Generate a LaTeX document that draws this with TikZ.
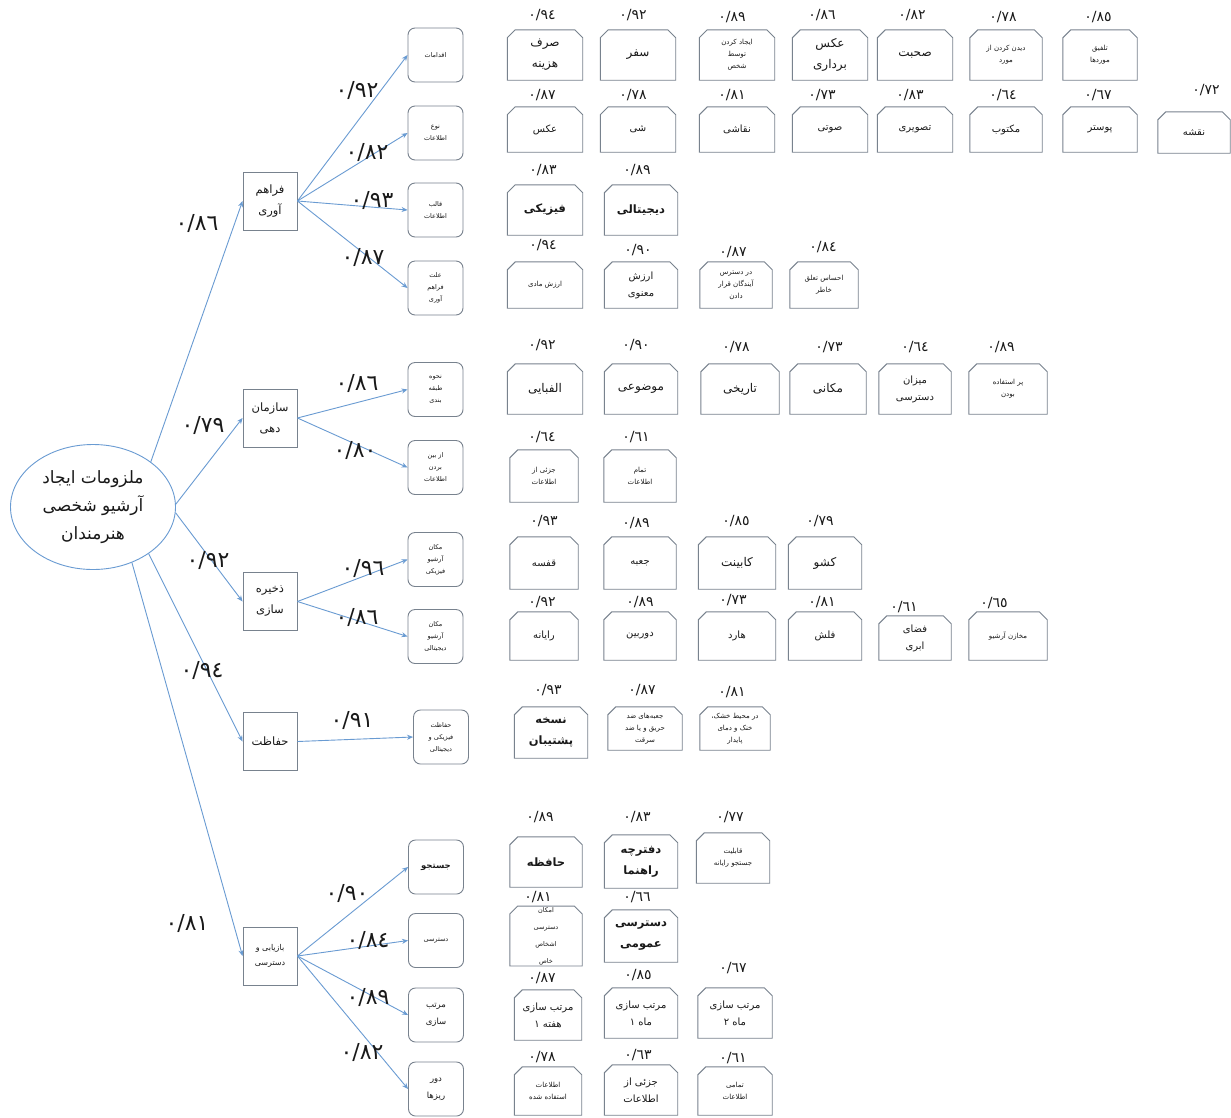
\documentclass[tikz,border=0pt]{standalone}
\usepackage{fontspec}
\TeXXeTstate=1
\newfontfamily\arabicfont[Script=Arabic]{DejaVu Sans}
\usetikzlibrary{shapes.geometric,arrows.meta}
\definecolor{arrowc}{RGB}{105,155,210}
\definecolor{boxc}{RGB}{120,130,142}
\definecolor{txtc}{RGB}{25,25,25}
\newcommand{\fa}[1]{\beginR #1\endR}
\tikzset{
 arr/.style={draw=arrowc, line width=0.9pt, -{Stealth[length=6pt,width=5pt]}},
 lone/.style={draw=boxc, line width=0.9pt, minimum width=54pt, minimum height=58pt, inner sep=1pt, align=center, text=txtc, font=\arabicfont\fontsize{11.5}{21}\selectfont},
 ltwo/.style={draw=boxc, line width=0.9pt, rounded corners=7pt, minimum width=55pt, minimum height=54pt, inner sep=1pt, align=center, text=txtc, font=\arabicfont\fontsize{6.5}{12}\selectfont},
 cell/.style 2 args={minimum width=#1pt, minimum height=#2pt, inner sep=1pt, align=center, text=txtc},
 big/.style={font=\arabicfont\fontsize{12}{21}\selectfont},
 bigb/.style={font=\arabicfont\bfseries\fontsize{11.5}{21}\selectfont},
 med/.style={font=\arabicfont\fontsize{10}{17}\selectfont},
 sml/.style={font=\arabicfont\fontsize{7}{12}\selectfont},
 val/.style={text=txtc, inner sep=0pt, font=\arabicfont\fontsize{14}{16}\selectfont},
 wlab/.style={text=txtc, inner sep=0pt, font=\arabicfont\fontsize{22}{24}\selectfont},
 snipline/.style={draw=boxc, line width=0.9pt},
}
\begin{document}
\begin{tikzpicture}[x=1pt,y=-1pt]
\fill[white] (0,0) rectangle (1231,1117);
\useasboundingbox (0,0) rectangle (1231,1117);

% root
\node[ellipse, draw=arrowc, line width=0.9pt, minimum width=165pt, minimum height=125pt, inner sep=0pt, align=center, text=txtc, font=\arabicfont\fontsize{17}{28}\selectfont] (root) at (93,507) {\fa{ملزومات ایجاد}\\\fa{آرشیو شخصی}\\\fa{هنرمندان}};

% level 1
\node[lone] (f) at (270,201) {\fa{فراهم}\\\fa{آوری}};
\node[lone] (s) at (270,418) {\fa{سازمان}\\\fa{دهی}};
\node[lone] (z) at (270,601.5) {\fa{ذخیره}\\\fa{سازی}};
\node[lone] (h) at (270,741.5) {\fa{حفاظت}};
\node[lone, font=\arabicfont\fontsize{8}{15}\selectfont] (b) at (270,956) {\fa{بازیابی و}\\\fa{دسترسی}};

% level 2
\node[ltwo] (f1) at (435.5,55) {\fa{اقدامات}};
\node[ltwo] (f2) at (435.5,133) {\fa{نوع}\\\fa{اطلاعات}};
\node[ltwo] (f3) at (435.5,210) {\fa{قالب}\\\fa{اطلاعات}};
\node[ltwo] (f4) at (435.5,288) {\fa{علت}\\\fa{فراهم}\\\fa{آوری}};
\node[ltwo] (s1) at (435.5,389.5) {\fa{نحوه}\\\fa{طبقه}\\\fa{بندی}};
\node[ltwo] (s2) at (435.5,467.5) {\fa{از بین}\\\fa{بردن}\\\fa{اطلاعات}};
\node[ltwo] (z1) at (435.5,559.5) {\fa{مکان}\\\fa{آرشیو}\\\fa{فیزیکی}};
\node[ltwo] (z2) at (435.5,636.5) {\fa{مکان}\\\fa{آرشیو}\\\fa{دیجیتالی}};
\node[ltwo] (h1) at (441,737) {\fa{حفاظت}\\\fa{فیزیکی و}\\\fa{دیجیتالی}};
\node[ltwo, font=\arabicfont\bfseries\fontsize{8.5}{14}\selectfont] (b1) at (436,867) {\fa{جستجو}};
\node[ltwo] (b2) at (436,940.5) {\fa{دسترسی}};
\node[ltwo, font=\arabicfont\fontsize{8.5}{17}\selectfont] (b3) at (436,1015) {\fa{مرتب}\\\fa{سازی}};
\node[ltwo, font=\arabicfont\fontsize{8.5}{17}\selectfont] (b4) at (436,1089) {\fa{دور}\\\fa{ریزها}};

% root edges
\draw[arr] (root.38) -- (f.west);
\draw[arr] (root.2) -- (s.west);
\draw[arr] (root.-4) -- (z.west);
\draw[arr] (root.-40) -- (h.west);
\draw[arr] (root.-55) -- (b.west);
\node[wlab] (lf) at (197,223) {٠/٨٦};
\node[wlab] (ls) at (203,425) {٠/٧٩};
\node[wlab] (lz) at (208,560) {٠/٩٢};
\node[wlab] (lh) at (202,670) {٠/٩٤};
\node[wlab] (lb) at (187,923) {٠/٨١};

% level-1 to level-2 edges
\foreach \a/\b in {f/f1,f/f2,f/f3,f/f4,s/s1,s/s2,z/z1,z/z2,h/h1,b/b1,b/b2,b/b3,b/b4}
  \draw[arr] (\a.east) -- (\b.west);
\node[wlab] (lf1) at (357,90) {٠/٩٢};
\node[wlab] (lf2) at (367,152) {٠/٨٢};
\node[wlab] (lf3) at (372,200) {٠/٩٣};
\node[wlab] (lf4) at (363,257) {٠/٨٧};
\node[wlab] (ls1) at (357,383) {٠/٨٦};
\node[wlab] (ls2) at (355,450) {٠/٨٠};
\node[wlab] (lz1) at (363,568) {٠/٩٦};
\node[wlab] (lz2) at (357,617) {٠/٨٦};
\node[wlab] (lh1) at (352,720) {٠/٩١};
\node[wlab] (lb1) at (347,893) {٠/٩٠};
\node[wlab] (lb2) at (368,940) {٠/٨٤};
\node[wlab] (lb3) at (368,997) {٠/٨٩};
\node[wlab] (lb4) at (362,1052) {٠/٨٢};

% ---- cells: row A (اقدامات)
\node[cell={75}{50}, big] (A1) at (545,55) {\fa{صرف}\\\fa{هزینه}};
\node[cell={75}{50}, big] (A2) at (638,55) {\fa{سفر}};
\node[cell={75}{50}, sml] (A3) at (737,55) {\fa{ایجاد کردن}\\\fa{توسط}\\\fa{شخص}};
\node[cell={75}{50}, big] (A4) at (830,55) {\fa{عکس}\\\fa{برداری}};
\node[cell={75}{50}, big] (A5) at (915,55) {\fa{صحبت}};
\node[cell={72}{50}, sml] (A6) at (1006,55) {\fa{دیدن کردن از}\\\fa{مورد}};
\node[cell={74}{50}, sml] (A7) at (1100,55) {\fa{تلفیق}\\\fa{موردها}};
\node[val] at (542,15) {٠/٩٤};
\node[val] at (633,15) {٠/٩٢};
\node[val] at (732,17) {٠/٨٩};
\node[val] at (822,15) {٠/٨٦};
\node[val] at (912,15) {٠/٨٢};
\node[val] at (1003,17) {٠/٧٨};
\node[val] at (1098,17) {٠/٨٥};

% row B (نوع اطلاعات)
\node[cell={75}{45}, med] (B1) at (545,129.5) {\fa{عکس}};
\node[cell={75}{45}, med] (B2) at (638,129.5) {\fa{شی}};
\node[cell={75}{45}, med] (B3) at (737,129.5) {\fa{نقاشی}};
\node[cell={75}{45}, med] (B4) at (830,129.5) {\fa{صوتی}};
\node[cell={75}{45}, med] (B5) at (915,129.5) {\fa{تصویری}};
\node[cell={72}{45}, med] (B6) at (1006,129.5) {\fa{مکتوب}};
\node[cell={74}{45}, med] (B7) at (1100,129.5) {\fa{پوستر}};
\node[cell={72}{41}, med] (B8) at (1194,132.5) {\fa{نقشه}};
\node[val] at (542,95) {٠/٨٧};
\node[val] at (633,95) {٠/٧٨};
\node[val] at (732,95) {٠/٨١};
\node[val] at (822,95) {٠/٧٣};
\node[val] at (910,95) {٠/٨٣};
\node[val] at (1003,95) {٠/٦٤};
\node[val] at (1098,95) {٠/٦٧};
\node[val] at (1206,90) {٠/٧٢};

% row C (قالب)
\node[cell={75}{50}, bigb] (C1) at (545,210) {\fa{فیزیکی}};
\node[cell={73}{50}, bigb] (C2) at (641,210) {\fa{دیجیتالی}};
\node[val] at (543,170) {٠/٨٣};
\node[val] at (637,170) {٠/٨٩};

% row D (علت)
\node[cell={75}{46}, sml] (D1) at (545,285) {\fa{ارزش مادی}};
\node[cell={73}{46}, med] (D2) at (641,285) {\fa{ارزش}\\\fa{معنوی}};
\node[cell={72}{46}, sml] (D3) at (736,285) {\fa{در دسترس}\\\fa{آیندگان قرار}\\\fa{دادن}};
\node[cell={68}{46}, sml] (D4) at (824,285) {\fa{احساس تعلق}\\\fa{خاطر}};
\node[val] at (543,245) {٠/٩٤};
\node[val] at (638,250) {٠/٩٠};
\node[val] at (733,252) {٠/٨٧};
\node[val] at (823,247) {٠/٨٤};

% row E (نحوه طبقه بندی)
\node[cell={75}{50}, big] (E1) at (545,389) {\fa{الفبایی}};
\node[cell={73}{50}, big] (E2) at (641,389) {\fa{موضوعی}};
\node[cell={78}{50}, big] (E3) at (740,389) {\fa{تاریخی}};
\node[cell={76}{50}, big] (E4) at (828,389) {\fa{مکانی}};
\node[cell={72}{50}, med] (E5) at (915,389) {\fa{میزان}\\\fa{دسترسی}};
\node[cell={78}{50}, sml] (E6) at (1008,389) {\fa{پر استفاده}\\\fa{بودن}};
\node[val] at (542,345) {٠/٩٢};
\node[val] at (636,345) {٠/٩٠};
\node[val] at (736,347) {٠/٧٨};
\node[val] at (829,347) {٠/٧٣};
\node[val] at (915,347) {٠/٦٤};
\node[val] at (1001,347) {٠/٨٩};

% row F (از بین بردن)
\node[cell={68}{52}, sml] (F1) at (544,476) {\fa{جزئی از}\\\fa{اطلاعات}};
\node[cell={72}{52}, sml] (F2) at (640,476) {\fa{تمام}\\\fa{اطلاعات}};
\node[val] at (542,437) {٠/٦٤};
\node[val] at (636,437) {٠/٦١};

% row G (مکان فیزیکی)
\node[cell={68}{52}, med] (G1) at (544,563) {\fa{قفسه}};
\node[cell={72}{52}, med] (G2) at (640,563) {\fa{جعبه}};
\node[cell={77}{52}, big] (G3) at (737,563) {\fa{کابینت}};
\node[cell={73}{52}, big] (G4) at (825,563) {\fa{کشو}};
\node[val] at (544,521) {٠/٩٣};
\node[val] at (636,523) {٠/٨٩};
\node[val] at (736,521) {٠/٨٥};
\node[val] at (820,521) {٠/٧٩};

% row H (مکان دیجیتالی)
\node[cell={68}{48}, med] (H1) at (544,636) {\fa{رایانه}};
\node[cell={72}{48}, med] (H2) at (640,636) {\fa{دوربین}};
\node[cell={77}{48}, med] (H3) at (737,636) {\fa{هارد}};
\node[cell={73}{48}, med] (H4) at (825,636) {\fa{فلش}};
\node[cell={72}{44}, med] (H5) at (915,638) {\fa{فضای}\\\fa{ابری}};
\node[cell={78}{48}, sml] (H6) at (1008,636) {\fa{مخازن آرشیو}};
\node[val] at (542,602) {٠/٩٢};
\node[val] at (640,602) {٠/٨٩};
\node[val] at (733,600) {٠/٧٣};
\node[val] at (822,602) {٠/٨١};
\node[val] at (904,607) {٠/٦١};
\node[val] at (994,603) {٠/٦٥};

% row I (حفاظت)
\node[cell={73}{51}, bigb] (I1) at (551,732.5) {\fa{نسخه}\\\fa{پشتیبان}};
\node[cell={74}{43}, sml] (I2) at (645,728.5) {\fa{جعبه‌های ضد}\\\fa{حریق و یا ضد}\\\fa{سرقت}};
\node[cell={70}{43}, sml] (I3) at (735,728.5) {\fa{در محیط خشک،}\\\fa{خنک و دمای}\\\fa{پایدار}};
\node[val] at (548,690) {٠/٩٣};
\node[val] at (642,690) {٠/٨٧};
\node[val] at (732,692) {٠/٨١};

% row J (جستجو)
\node[cell={72}{50}, bigb] (J1) at (546,862) {\fa{حافظه}};
\node[cell={73}{53}, bigb] (J2) at (641,861.5) {\fa{دفترچه}\\\fa{راهنما}};
\node[cell={73}{50}, sml] (J3) at (733,858) {\fa{قابلیت}\\\fa{جستجو رایانه}};
\node[val] at (540,817) {٠/٨٩};
\node[val] at (637,817) {٠/٨٣};
\node[val] at (730,817) {٠/٧٧};

% row K (دسترسی)
\node[cell={72}{52}, font=\arabicfont\fontsize{6.5}{17}\selectfont] (K1) at (546,936) {\fa{امکان}\\\fa{دسترسی}\\\fa{اشخاص}\\\fa{خاص}};
\node[cell={73}{52}, bigb] (K2) at (641,936) {\fa{دسترسی}\\\fa{عمومی}};
\node[val] at (538,897) {٠/٨١};
\node[val] at (637,897) {٠/٦٦};

% row L (مرتب سازی)
\node[cell={67}{50}, med] (L1) at (548,1015) {\fa{مرتب سازی}\\\fa{هفته ١}};
\node[cell={73}{50}, med] (L2) at (641,1013) {\fa{مرتب سازی}\\\fa{ماه ١}};
\node[cell={74}{50}, med] (L3) at (735,1013) {\fa{مرتب سازی}\\\fa{ماه ٢}};
\node[val] at (542,978) {٠/٨٧};
\node[val] at (638,975) {٠/٨٥};
\node[val] at (733,968) {٠/٦٧};

% row M (دور ریزها)
\node[cell={67}{48}, sml] (M1) at (548,1091) {\fa{اطلاعات}\\\fa{استفاده شده}};
\node[cell={73}{50}, med] (M2) at (641,1090) {\fa{جزئی از}\\\fa{اطلاعات}};
\node[cell={74}{48}, sml] (M3) at (735,1091) {\fa{تمامی}\\\fa{اطلاعات}};
\node[val] at (542,1057) {٠/٧٨};
\node[val] at (638,1055) {٠/٦٣};
\node[val] at (733,1058) {٠/٦١};

% snipped-corner outlines
\foreach \n in {A1,A2,A3,A4,A5,A6,A7,B1,B2,B3,B4,B5,B6,B7,B8,C1,C2,D1,D2,D3,D4,E1,E2,E3,E4,E5,E6,F1,F2,G1,G2,G3,G4,H1,H2,H3,H4,H5,H6,I1,I2,I3,J1,J2,J3,K1,K2,L1,L2,L3,M1,M2,M3}
  \draw[snipline] (\n.south west) -- ([yshift=-8pt]\n.north west) -- ([xshift=8pt]\n.north west) -- ([xshift=-8pt]\n.north east) -- ([yshift=-8pt]\n.north east) -- (\n.south east) -- cycle;
\end{tikzpicture}
\end{document}
